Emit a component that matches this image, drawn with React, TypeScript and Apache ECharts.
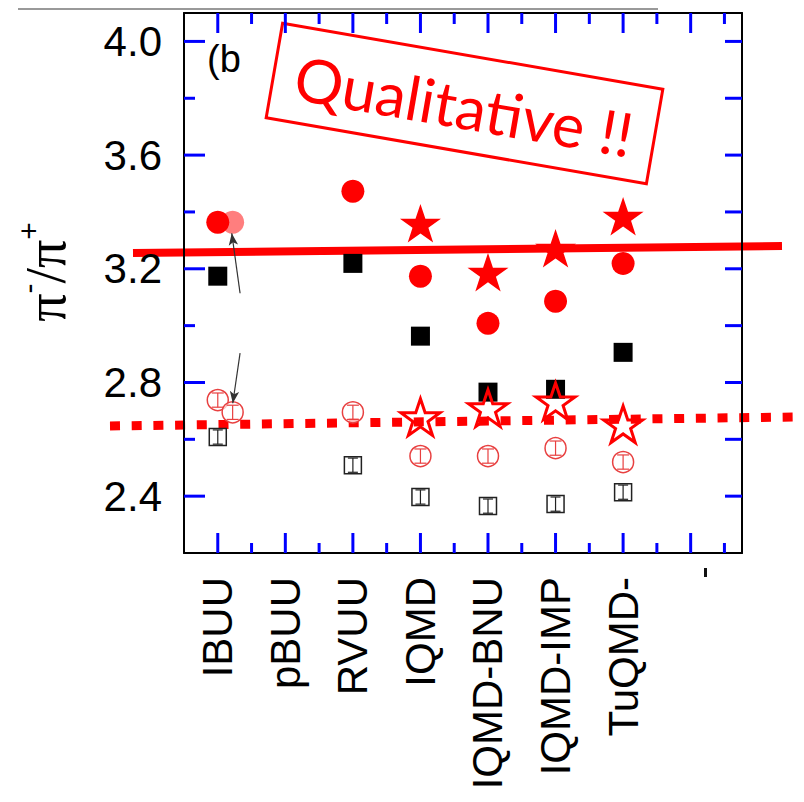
import React, { useEffect, useRef } from "react";
import * as echarts from "echarts";

const CATEGORIES = ["IBUU", "pBUU", "RVUU", "IQMD", "IQMD-BNU", "IQMD-IMP", "TuQMD-"];
const FILLED_SQUARE = [3.174, null, 3.219, 2.963, 2.766, 2.776, 2.906];
const FILLED_CIRCLE = [3.364, null, 3.473, 3.174, 3.008, 3.086, 3.219];
const FILLED_STAR = [null, null, null, 3.36, 3.188, 3.272, 3.385];
const OPEN_STAR = [null, null, null, 2.678, 2.71, 2.734, 2.653];
const OPEN_CIRCLE = [2.738, null, 2.695, 2.541, 2.541, 2.569, 2.52];
const OPEN_SQUARE = [2.608, null, 2.509, 2.397, 2.365, 2.372, 2.414];
const SHIFT_X = 0.22;
const SHIFTED_FILLED_CIRCLE = [3.364];
const SHIFTED_OPEN_CIRCLE = [2.695];
const ERR = 0.025;

const X_MIN = -0.5;
const X_MAX = 7.76;
const Y_MIN = 2.2;
const Y_MAX = 4.1;
const X_MAJOR = [0, 1, 2, 3, 4, 5, 6, 7];
const X_MINOR = [0.5, 1.5, 2.5, 3.5, 4.5, 5.5, 6.5, 7.5];
const X_LABELS = [0, 1, 2, 3, 4, 5, 6];
const Y_MAJOR = [2.4, 2.8, 3.2, 3.6, 4.0];
const Y_MINOR = [2.6, 3.0, 3.4, 3.8];
const Y_RIGHT = [2.4, 2.6, 2.8, 3.0, 3.2, 3.4, 3.6, 3.8, 4.0];

const STAR =
  "path://M50,0 L61.8,35.1 L98.9,35.1 L68.9,56.8 L80.3,91.9 L50,70.2 L19.7,91.9 L31.1,56.8 L1.1,35.1 L38.2,35.1 Z";

const toPts = (arr: (number | null)[]) =>
  arr.map((v, i) => (v == null ? null : [i, v])).filter((p) => p != null);

const errPts = (arr: (number | null)[]) =>
  arr.map((v, i) => (v == null ? null : [i, v, ERR])).filter((p) => p != null);

function errRender(color: string, hw: number) {
  return (params: any, api: any) => {
    const x = api.value(0);
    const y = api.value(1);
    const e = api.value(2);
    const top = api.coord([x, y + e]);
    const bot = api.coord([x, y - e]);
    const style = { stroke: color, lineWidth: 1.2 };
    return {
      type: "group",
      children: [
        { type: "line", shape: { x1: top[0], y1: top[1], x2: bot[0], y2: bot[1] }, style },
        { type: "line", shape: { x1: top[0] - hw, y1: top[1], x2: top[0] + hw, y2: top[1] }, style },
        { type: "line", shape: { x1: bot[0] - hw, y1: bot[1], x2: bot[0] + hw, y2: bot[1] }, style },
      ],
    };
  };
}

const tick = (value: number[], len: number, dir: string) => {
  const vertical = dir === "up" || dir === "down";
  return {
    value,
    symbolSize: vertical ? [3, len] : [len, 3],
    symbolOffset:
      dir === "up" ? [0, -len / 2] : dir === "down" ? [0, len / 2] : dir === "right" ? [len / 2, 0] : [-len / 2, 0],
  };
};

const tickData = [
  ...X_MAJOR.map((v) => tick([v, Y_MIN], 20, "up")),
  ...X_MINOR.map((v) => tick([v, Y_MIN], 10, "up")),
  ...X_MAJOR.map((v) => tick([v, Y_MAX], 20, "down")),
  ...X_MINOR.map((v) => tick([v, Y_MAX], 11, "down")),
  ...Y_MAJOR.map((v) => tick([X_MIN, v], 21, "right")),
  ...Y_MINOR.map((v) => tick([X_MIN, v], 11, "right")),
  ...Y_RIGHT.map((v) => tick([X_MAX, v], 17, "left")),
];

export default function App() {
  const ref = useRef<HTMLDivElement>(null);
  useEffect(() => {
    if (!ref.current) return;
    const chart = echarts.init(ref.current, undefined, { renderer: "svg" });
    const font = "Liberation Sans";
    const RED = "#ff0000";
    const line = { show: true, onZero: false, lineStyle: { color: "#000", width: 2 } };
    const option: any = {
      animation: false,
      grid: { left: 184, right: 62, top: 13, bottom: 249 },
      xAxis: [
        {
          type: "value",
          min: X_MIN,
          max: X_MAX,
          position: "bottom",
          splitLine: { show: false },
          axisTick: { show: false },
          axisLine: line,
          axisLabel: {
            show: true,
            customValues: X_LABELS,
            rotate: 90,
            margin: 24,
            fontSize: 42,
            fontFamily: font,
            color: "#000",
            formatter: (v: number) => CATEGORIES[Math.round(v)] ?? "",
          },
        },
        {
          type: "value",
          min: X_MIN,
          max: X_MAX,
          position: "top",
          splitLine: { show: false },
          axisTick: { show: false },
          axisLine: line,
          axisLabel: { show: false },
        },
      ],
      yAxis: [
        {
          type: "value",
          min: Y_MIN,
          max: Y_MAX,
          position: "left",
          splitLine: { show: false },
          axisTick: { show: false },
          axisLine: line,
          axisLabel: {
            show: true,
            customValues: Y_MAJOR,
            margin: 22,
            fontSize: 42,
            fontFamily: font,
            color: "#000",
            formatter: (v: number) => v.toFixed(1),
          },
        },
        {
          type: "value",
          min: Y_MIN,
          max: Y_MAX,
          position: "right",
          splitLine: { show: false },
          axisTick: { show: false },
          axisLine: line,
          axisLabel: { show: false },
        },
      ],
      series: [
        {
          type: "scatter",
          symbol: "rect",
          clip: false,
          silent: true,
          z: 100,
          itemStyle: { color: "blue", opacity: 1 },
          data: tickData,
        },
        {
          type: "scatter",
          symbol: "rect",
          symbolSize: 19,
          itemStyle: { color: "#000", opacity: 1 },
          data: toPts(FILLED_SQUARE),
          z: 3,
        },
        {
          type: "scatter",
          symbol: "circle",
          symbolSize: 23,
          itemStyle: { color: "rgba(255,40,40,0.6)", opacity: 1 },
          data: SHIFTED_FILLED_CIRCLE.map((v) => [SHIFT_X, v]),
          z: 3,
        },
        {
          type: "scatter",
          symbol: "circle",
          symbolSize: 23,
          itemStyle: { color: RED, opacity: 1 },
          data: toPts(FILLED_CIRCLE),
          z: 4,
        },
        {
          type: "scatter",
          symbol: STAR,
          symbolKeepAspect: true,
          symbolSize: 41,
          itemStyle: { color: RED, opacity: 1 },
          data: toPts(FILLED_STAR),
          z: 4,
        },
        {
          type: "scatter",
          symbol: "rect",
          symbolSize: 17,
          itemStyle: { color: "#fff", borderColor: "#222", borderWidth: 1.5, opacity: 1 },
          data: toPts(OPEN_SQUARE),
          z: 3,
        },
        {
          type: "scatter",
          symbol: "circle",
          symbolSize: 21,
          itemStyle: { color: "rgba(255,255,255,0.7)", borderColor: "#e84040", borderWidth: 1.5, opacity: 1 },
          data: [...toPts(OPEN_CIRCLE), ...SHIFTED_OPEN_CIRCLE.map((v) => [SHIFT_X, v])],
          z: 3,
        },
        {
          type: "scatter",
          symbol: STAR,
          symbolKeepAspect: true,
          symbolSize: 39,
          itemStyle: { color: "rgba(255,255,255,0)", borderColor: RED, borderWidth: 3, opacity: 1 },
          data: toPts(OPEN_STAR),
          z: 5,
        },
        {
          type: "custom",
          renderItem: errRender("#e84040", 6),
          data: [...errPts(OPEN_CIRCLE), ...SHIFTED_OPEN_CIRCLE.map((v) => [SHIFT_X, v, ERR])],
          z: 6,
        },
        {
          type: "custom",
          renderItem: errRender("#222", 5),
          data: errPts(OPEN_SQUARE),
          z: 6,
        },
        {
          type: "scatter",
          data: [],
          markLine: {
            silent: true,
            symbol: ["none", "arrow"],
            symbolSize: [7, 12],
            label: { show: false },
            lineStyle: { color: "#333", width: 1.2, type: "solid" },
            data: [
              [{ coord: [0.33, 3.114] }, { coord: [0.207, 3.325] }],
              [{ coord: [0.33, 2.903] }, { coord: [0.222, 2.727] }],
            ],
          },
        },
      ],
      graphic: [
        {
          type: "line",
          shape: { x1: 18, y1: 9, x2: 658, y2: 9 },
          style: { stroke: "#999", lineWidth: 2 },
        },
        {
          type: "text",
          left: 207,
          top: 40,
          style: { text: "(b", fontSize: 38, fontFamily: font, fill: "#000" },
        },
        {
          type: "text",
          x: 46,
          y: 272,
          rotation: Math.PI / 2,
          style: {
            text: "{pi|π}{sup|-}{pi|/π}{sup|+}",
            align: "center",
            verticalAlign: "middle",
            rich: {
              pi: { fontSize: 56, fontFamily: "Liberation Serif", fill: "#000", lineHeight: 66 },
              sup: { fontSize: 30, fontFamily: font, fill: "#000", verticalAlign: "top", lineHeight: 30 },
            },
          },
        },
        {
          type: "group",
          x: 464.5,
          y: 103.5,
          rotation: -0.172,
          children: [
            {
              type: "rect",
              shape: { x: -193, y: -48, width: 386, height: 96 },
              style: { fill: "#fff", stroke: RED, lineWidth: 3 },
            },
            {
              type: "text",
              x: 0,
              y: 2,
              style: {
                text: "Qualitative !!",
                align: "center",
                verticalAlign: "middle",
                fontSize: 61,
                fontFamily: "Lato",
                fill: RED,
              },
            },
          ],
        },
        {
          type: "line",
          shape: { x1: 133, y1: 253, x2: 782, y2: 246 },
          style: { stroke: RED, lineWidth: 8 },
        },
        {
          type: "line",
          shape: { x1: 110, y1: 426, x2: 793, y2: 417 },
          style: { stroke: RED, lineWidth: 9, lineDash: [10, 11.7] },
        },
        {
          type: "rect",
          shape: { x: 704, y: 568, width: 3, height: 9 },
          style: { fill: "#111" },
        },
      ],
    };
    chart.setOption(option);
    return () => chart.dispose();
  }, []);
  return (
    <div
      ref={ref}
      style={{ position: "fixed", left: 0, top: 0, width: 804, height: 802, background: "#fff" }}
    />
  );
}
